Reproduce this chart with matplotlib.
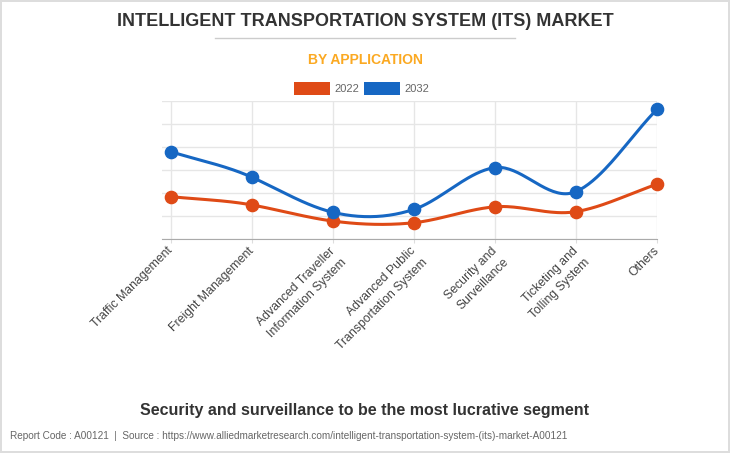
import numpy as np
import matplotlib

matplotlib.use("Agg")

import matplotlib.pyplot as plt
import matplotlib.transforms as mtransforms
from matplotlib.patches import Rectangle
from matplotlib.lines import Line2D

plt.rcParams["font.family"] = ["Liberation Sans", "DejaVu Sans"]

# data (arbitrary units)
categories = [
    "Traffic Management",
    "Freight Management",
    "Advanced Traveller\nInformation System",
    "Advanced Public\nTransportation System",
    "Security and\nSurveillance",
    "Ticketing and\nTolling System",
    "Others",
]
values_2022 = [1.85, 1.49, 0.79, 0.72, 1.41, 1.20, 2.39]
values_2032 = [3.80, 2.69, 1.17, 1.30, 3.11, 2.07, 5.64]
series_names = ["2022", "2032"]

ORANGE = "#DF4A16"
BLUE = "#1667C3"
W, H = 730, 453


def smooth(x, y, k=0.6, n=40):
    """Cardinal spline through the points."""
    x = np.asarray(x, float)
    y = np.asarray(y, float)
    m = np.zeros_like(y)
    m[1:-1] = k * (y[2:] - y[:-2])
    m[0] = y[1] - y[0]
    m[-1] = y[-1] - y[-2]
    xs, ys = [], []
    for i in range(len(x) - 1):
        t = np.linspace(0, 1, n)
        h00 = 2 * t**3 - 3 * t**2 + 1
        h10 = t**3 - 2 * t**2 + t
        h01 = -2 * t**3 + 3 * t**2
        h11 = t**3 - t**2
        xs.append(x[i] + t * (x[i + 1] - x[i]))
        ys.append(h00 * y[i] + h10 * m[i] + h01 * y[i + 1] + h11 * m[i + 1])
    return np.concatenate(xs), np.concatenate(ys)


def fy(py):
    return 1 - py / H


def fx(px):
    return px / W


fig = plt.figure(figsize=(W / 100, H / 100), dpi=100)
fig.patch.set_facecolor("white")
fig.patch.set_edgecolor("#dddddd")
fig.patch.set_linewidth(1.5)

ax = fig.add_axes([fx(162), fy(239.3), fx(657) - fx(162), fy(101) - fy(239.3)])
x = np.arange(len(categories))

for vals, color in [(values_2022, ORANGE), (values_2032, BLUE)]:
    sx, sy = smooth(x, vals)
    ax.plot(sx, sy, color=color, lw=2.2, zorder=3, solid_capstyle="round", clip_on=False)
    ax.plot(x, vals, "o", color=color, ms=8.8, zorder=4, clip_on=False)

ax.set_xlim(-0.111, 6)
ax.set_ylim(0, 6)
ax.set_yticks(range(7))
ax.set_yticklabels([])
ax.tick_params(axis="y", length=0)
ax.set_xticks(x)
ax.set_xticklabels(categories, rotation=45, ha="right", va="top",
                   rotation_mode="anchor", fontsize=8.8, color="#444444",
                   multialignment="right", linespacing=1.45)
ax.tick_params(axis="x", length=3, color="#dddddd", pad=1)
shift = mtransforms.ScaledTranslation(-4 / 100, 0, fig.dpi_scale_trans)
for lbl in ax.get_xticklabels():
    lbl.set_transform(lbl.get_transform() + shift)
ax.grid(True, color="#e6e6e6", lw=1)
ax.set_axisbelow(True)
for side in ["top", "right", "left"]:
    ax.spines[side].set_visible(False)
ax.spines["bottom"].set_color("#aaaaaa")
ax.set_facecolor("white")

# titles
fig.text(0.5, fy(22), "INTELLIGENT TRANSPORTATION SYSTEM (ITS) MARKET",
         ha="center", va="center", fontsize=13.0, fontweight="bold", color="#333333")
fig.add_artist(Line2D([fx(215), fx(515)], [fy(37.5), fy(37.5)], color="#cccccc", lw=1))
fig.text(0.5, fy(60), "BY APPLICATION", ha="center", va="center",
         fontsize=10.0, fontweight="bold", color="#FBA922")

# legend
for (x0, x1, tx), name, color in zip([(294, 330, 334), (364, 400, 404)], series_names, [ORANGE, BLUE]):
    fig.add_artist(Rectangle((fx(x0), fy(94.5)), fx(x1) - fx(x0), fy(82) - fy(94.5),
                             facecolor=color, edgecolor="none"))
    fig.text(fx(tx), fy(88.5), name, ha="left", va="center", fontsize=8, color="#666666")

fig.text(0.5, fy(410), "Security and surveillance to be the most lucrative segment",
         ha="center", va="center", fontsize=11.55, fontweight="bold", color="#333333")
fig.text(fx(10), fy(436),
         "Report Code : A00121  |  Source : https://www.alliedmarketresearch.com/intelligent-transportation-system-(its)-market-A00121",
         ha="left", va="center", fontsize=7.2, color="#666666")

fig.savefig("out.png", dpi=100, facecolor=fig.get_facecolor(), edgecolor=fig.get_edgecolor())
